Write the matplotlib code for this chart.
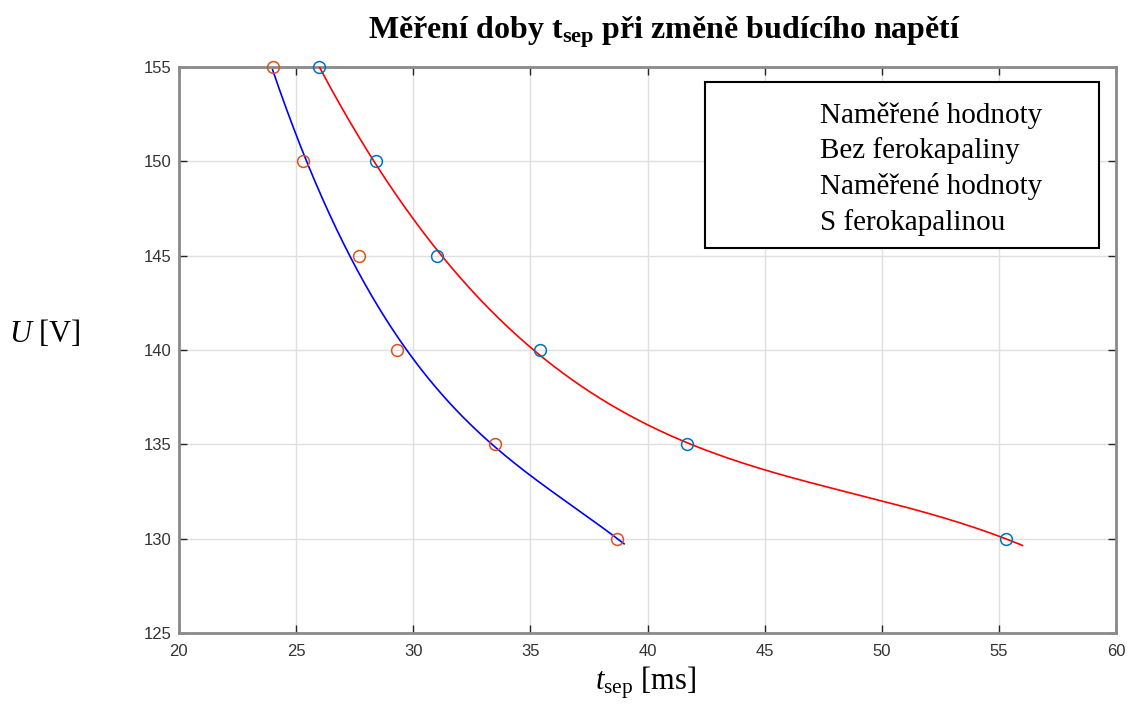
import numpy as np
import matplotlib
matplotlib.use('Agg')
import matplotlib.pyplot as plt
from matplotlib.patches import Rectangle

plt.rcParams['font.family'] = ['Liberation Sans', 'DejaVu Sans']
plt.rcParams['mathtext.fontset'] = 'custom'
plt.rcParams['mathtext.rm'] = 'Liberation Serif'
plt.rcParams['mathtext.it'] = 'Liberation Serif:italic'
plt.rcParams['mathtext.bf'] = 'Liberation Serif:bold'

# measured values
t_bez = [26.0, 28.4, 31.0, 35.4, 41.7, 55.3]
u_bez = [155, 150, 145, 140, 135, 130]
t_s = [24.0, 25.3, 27.7, 29.3, 33.5, 38.7]
u_s = [155, 150, 145, 140, 135, 130]

# range of the fitted curves
fit_bez_range = (26.0, 56.0)
fit_s_range = (24.0, 39.0)

legend_lines = ['Naměřené hodnoty', 'Bez ferokapaliny',
                'Naměřené hodnoty', 'S ferokapalinou']

fig = plt.figure(figsize=(11.32, 7.09), dpi=100)
ax = fig.add_axes([0.158, 0.107, 0.828, 0.7985])

# cubic fits U(t)
p_bez = np.polyfit(t_bez, u_bez, 3)
p_s = np.polyfit(t_s, u_s, 3)
xb = np.linspace(*fit_bez_range, 300)
xs = np.linspace(*fit_s_range, 300)
ax.plot(xb, np.polyval(p_bez, xb), color='#ff0000', lw=1.2, zorder=3)
ax.plot(xs, np.polyval(p_s, xs), color='#0000ff', lw=1.2, zorder=3)

ax.plot(t_bez, u_bez, 'o', mfc='none', mec='#0072BD', ms=8.5, mew=1.1,
        zorder=4, clip_on=False)
ax.plot(t_s, u_s, 'o', mfc='none', mec='#D95319', ms=8.5, mew=1.1,
        zorder=4, clip_on=False)

ax.set_xlim(20, 60)
ax.set_ylim(125, 155)
ax.set_xticks(np.arange(20, 61, 5))
ax.set_yticks(np.arange(125, 156, 5))
ax.grid(True, color='#e0e0e0', lw=1.0)
ax.set_axisbelow(True)
ax.tick_params(direction='in', length=6, width=1, colors='#262626',
               labelsize=12, top=True, right=True, labelcolor='#333333')
ax.tick_params(axis='x', pad=8)
ax.tick_params(axis='y', pad=5)
for s in ax.spines.values():
    s.set_color('#8a8a8a')
    s.set_linewidth(2.0)

fig.text(0.040, 0.53, r'$U$ [V]', fontsize=22, family='Liberation Serif',
         ha='center', va='center')
fig.text(0.57, 0.027, r'$t_{\mathrm{sep}}$ [ms]', fontsize=22,
         family='Liberation Serif', ha='center', va='baseline')
fig.text(0.587, 0.945, r'Měření doby t$_{\mathbf{sep}}$ při změně budícího napětí',
         fontsize=23, family='Liberation Serif', weight='bold',
         ha='center', va='baseline')

# legend box (text only)
ax.add_patch(Rectangle((0.561, 0.680), 0.421, 0.2935, transform=ax.transAxes,
                       fc='white', ec='black', lw=1.5, zorder=5))
ys = [0.901, 0.839, 0.776, 0.712]
for txt, y in zip(legend_lines, ys):
    ax.text(0.684, y, txt, transform=ax.transAxes, fontsize=21,
            family='Liberation Serif', va='baseline', ha='left', zorder=6)

fig.savefig('out.png', dpi=100)
